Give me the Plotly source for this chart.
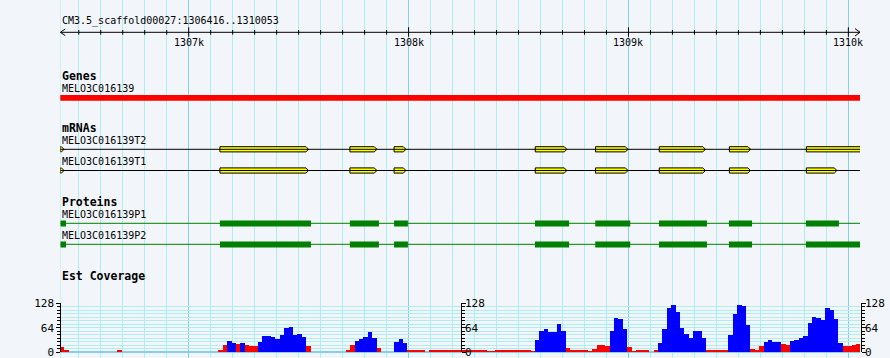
import plotly.graph_objects as go

# ---------------- data ----------------
REF_NAME = "CM3.5_scaffold00027"
START, END = 1306416, 1310053
ruler_major = [1307000, 1308000, 1309000, 1310000]
ruler_labels = ["1307k", "1308k", "1309k", "1310k"]

gene_name = "MELO3C016139"
gene_span = [1306416, 1310053]

mrna_names = ["MELO3C016139T2", "MELO3C016139T1"]
mrna_t2_exons = [(1306416, 1306433), (1307142, 1307545), (1307733, 1307856),
                 (1307934, 1307988), (1308576, 1308720), (1308850, 1308998),
                 (1309140, 1309350), (1309459, 1309555), (1309809, 1310053)]
mrna_t1_exons = [(1306416, 1306433), (1307142, 1307545), (1307733, 1307856),
                 (1307934, 1307988), (1308576, 1308720), (1308850, 1308998),
                 (1309140, 1309350), (1309459, 1309555), (1309809, 1309948)]

protein_names = ["MELO3C016139P1", "MELO3C016139P2"]
p1_cds = [(1306416, 1306442), (1307142, 1307556), (1307733, 1307865),
          (1307934, 1307997), (1308575, 1308730), (1308849, 1309008),
          (1309139, 1309357), (1309457, 1309562), (1309807, 1309957)]
p2_cds = [(1306416, 1306442), (1307142, 1307556), (1307733, 1307865),
          (1307934, 1307997), (1308575, 1308730), (1308849, 1309008),
          (1309139, 1309357), (1309457, 1309562), (1309807, 1310053)]

cov_bin = 20
cov_values = [
    13, 2, 0, 0, 0, 0, 0, 0, 0, 0, 0, 0, 0, 2, 0, 0, 0, 0, 0, 0,
    0, 0, 0, 0, 0, 0, 0, 0, 0, 0, 0, 0, 0, 0, 0, 0,
    4, 17, 28, 22, 19, 22, 17, 16, 15, 26, 40, 42, 38, 33, 44, 62, 66, 44, 46, 38, 14,
    0, 0, 0, 0, 0, 0, 0, 0,
    5, 18, 28, 33, 38, 52, 35, 10,
    0, 0, 0,
    26, 34, 22, 4,
    3, 2, 3, 0, 2, 3, 2, 3,
    4, 4, 4, 3, 3, 3, 3, 3, 3,
    1, 1,
    4, 4, 5, 5, 4, 2, 3, 3, 1,
    30, 55, 59, 51, 52, 72, 55,
    11, 2, 4, 4, 2, 1, 8,
    18, 18, 16,
    55, 88, 86, 60,
    12, 1, 2, 4, 2, 0, 3,
    24, 60, 115, 124, 105, 62, 47, 36, 55, 55, 35,
    3, 4, 4, 5, 4,
    45, 100, 124, 120, 70,
    8, 5, 14,
    26, 30, 26, 26,
    20, 17,
    27, 30, 37, 40, 75, 92, 88, 83, 115, 110, 85, 22,
    14, 15, 17, 19,
]
cov_pivot = 21
cov_ticks = [0, 64, 128]

# ---------------- style ----------------
W, H = 890, 358
X0PX, X1PX = 60.3, 860.0
BP_PER_PX = (END - START) / (X1PX - X0PX)
BG = "#f2f5fa"
GRID_MINOR = "#afeeee"
GRID_MAJOR = "#87ceeb"
MONO = "DejaVu Sans Mono"
dom = [X0PX / W, X1PX / W]

fig = go.Figure()

# ---- ruler ----
minor_ticks = list(range(1306500, END, 100))
tx, ty = [], []
for t in minor_ticks:
    if t in ruler_major:
        tx += [t, t, None]; ty += [27.3, 36.7, None]
    else:
        tx += [t, t, None]; ty += [30.0, 34.7, None]
fig.add_trace(go.Scatter(x=[START, END], y=[32.3, 32.3], mode="lines",
                         line=dict(color="black", width=1), cliponaxis=False))
fig.add_trace(go.Scatter(x=tx, y=ty, mode="lines", line=dict(color="black", width=1),
                         cliponaxis=False))
a = 5 * BP_PER_PX
fig.add_trace(go.Scatter(x=[START + a, START, START + a], y=[29.0, 32.3, 35.6],
                         mode="lines", line=dict(color="black", width=1), cliponaxis=False))
fig.add_trace(go.Scatter(x=[END - a, END, END - a], y=[28.6, 32.3, 36.0],
                         mode="lines", line=dict(color="black", width=1), cliponaxis=False))

ann = []
def label(x, y, text, size=10, bold=False, anchor="left"):
    ann.append(dict(x=x, y=y, xref="x", yref="y", text=("<b>%s</b>" % text) if bold else text,
                    showarrow=False, xanchor=anchor, yanchor="middle",
                    font=dict(family=MONO, size=size, color="black")))

label(START, 21, "%s:%d..%d" % (REF_NAME, START, END))
for t, s in zip(ruler_major, ruler_labels):
    label(t, 42.5, s, anchor="center")

# ---- genes ----
label(START, 76, "Genes", size=11.5, bold=True)
label(START, 88, gene_name)
shapes = []
shapes.append(dict(type="rect", xref="x", yref="y", x0=gene_span[0] - 1 * BP_PER_PX,
                   x1=gene_span[1] + 2 * BP_PER_PX, y0=95, y1=100.7,
                   fillcolor="red", line=dict(width=0)))

# ---- mRNAs ----
label(START, 128, "mRNAs", size=11.5, bold=True)
tip = 2.6 * BP_PER_PX
for name, exons, ly, cy in [(mrna_names[0], mrna_t2_exons, 140, 149.3),
                            (mrna_names[1], mrna_t1_exons, 161.5, 170.5)]:
    label(START, ly, name)
    shapes.append(dict(type="line", xref="x", yref="y", x0=START, x1=END + 2 * BP_PER_PX,
                       y0=cy, y1=cy, line=dict(color="black", width=1)))
    for s, e in exons:
        top, bot = cy - 2.6, cy + 2.6
        if e >= END:
            xs = [s, e + 2 * BP_PER_PX, e + 2 * BP_PER_PX, s, s]
            ys = [top, top, bot, bot, top]
        else:
            xs = [s, e - tip, e, e - tip, s, s]
            ys = [top, top, cy, bot, bot, top]
        fig.add_trace(go.Scatter(x=xs, y=ys, mode="lines", fill="toself",
                                 fillcolor="yellow", line=dict(color="black", width=1),
                                 cliponaxis=False))

# ---- proteins ----
label(START, 202, "Proteins", size=11.5, bold=True)
for name, cds, ly, cy in [(protein_names[0], p1_cds, 214, 223.3),
                          (protein_names[1], p2_cds, 235, 244.3)]:
    label(START, ly, name)
    shapes.append(dict(type="line", xref="x", yref="y", x0=START, x1=END + 2 * BP_PER_PX,
                       y0=cy, y1=cy, line=dict(color="#008000", width=1)))
    for s, e in cds:
        shapes.append(dict(type="rect", xref="x", yref="y", x0=s, x1=e,
                           y0=cy - 2.8, y1=cy + 3.2, fillcolor="#008000", line=dict(width=0)))

# ---- coverage ----
label(START, 276, "Est Coverage", size=11.5, bold=True)
centers = [START + i * cov_bin + cov_bin / 2 for i in range(len(cov_values))]
colors = ["#0000ff" if v > cov_pivot else "#ff0000" for v in cov_values]
fig.add_trace(go.Bar(x=centers, y=cov_values, width=cov_bin, marker_color=colors,
                     marker_line_width=0, xaxis="x2", yaxis="y2"))
for ya in ["y3", "y4"]:
    fig.add_trace(go.Scatter(x=[None], y=[None], xaxis="x2", yaxis=ya, mode="markers"))

# start-edge grid line
shapes.append(dict(type="line", xref="x", yref="paper", x0=START, x1=START, y0=0, y1=1,
                   layer="below", line=dict(color=GRID_MINOR, width=1)))

y0d = (H - 352) / H
y1d = (H - 303.3) / H
cov_axis = dict(range=[0, 128], domain=[y0d, y1d], anchor="free",
                tickmode="array", tickvals=cov_ticks, ticktext=[str(v) for v in cov_ticks],
                ticks="outside", ticklen=4, tickcolor="black", tickwidth=1,
                showline=True, linecolor="black", linewidth=1,
                minor=dict(ticks="outside", ticklen=3, tickcolor="black", tick0=0,
                           dtick=64 / 7, showgrid=False),
                tickfont=dict(family=MONO, size=11, color="black"),
                ticklabeloverflow="allow",
                showgrid=False, zeroline=False, fixedrange=True, automargin=False)

fig.update_layout(
    width=W, height=H, margin=dict(l=0, r=0, t=0, b=0, pad=0, autoexpand=False),
    autosize=False,
    paper_bgcolor=BG, plot_bgcolor="rgba(0,0,0,0)",
    showlegend=False, hovermode=False, bargap=0,
    xaxis=dict(domain=dom, range=[START, END], tickmode="linear", tick0=1307000, dtick=1000,
               showgrid=True, gridcolor=GRID_MAJOR, gridwidth=1,
               minor=dict(showgrid=True, gridcolor=GRID_MINOR, tick0=1306500, dtick=100, ticks=""),
               showticklabels=False, ticks="", zeroline=False, showline=False, fixedrange=True,
               automargin=False),
    yaxis=dict(domain=[0, 1], range=[H, 0], visible=False, fixedrange=True, automargin=False),
    xaxis2=dict(domain=dom, range=[START, END], anchor="y2", visible=False, fixedrange=True,
                automargin=False),
    yaxis2=dict(cov_axis, position=dom[0], side="left",
                showgrid=True, gridcolor=GRID_MINOR,
                zeroline=True, zerolinecolor=GRID_MAJOR,
                minor=dict(cov_axis["minor"], showgrid=True, gridcolor=GRID_MINOR)),
    yaxis3=dict(cov_axis, overlaying="y2", position=460.7 / W, side="right",
                ticklabelstandoff=-3),
    yaxis4=dict(cov_axis, overlaying="y2", position=860.7 / W, side="right",
                ticklabelstandoff=-3),
    shapes=shapes, annotations=ann,
)

fig.write_html("out.html", config={"displayModeBar": False},
               post_script="document.body.style.margin='0';document.body.style.overflow='hidden';document.body.style.background='%s';" % BG)
